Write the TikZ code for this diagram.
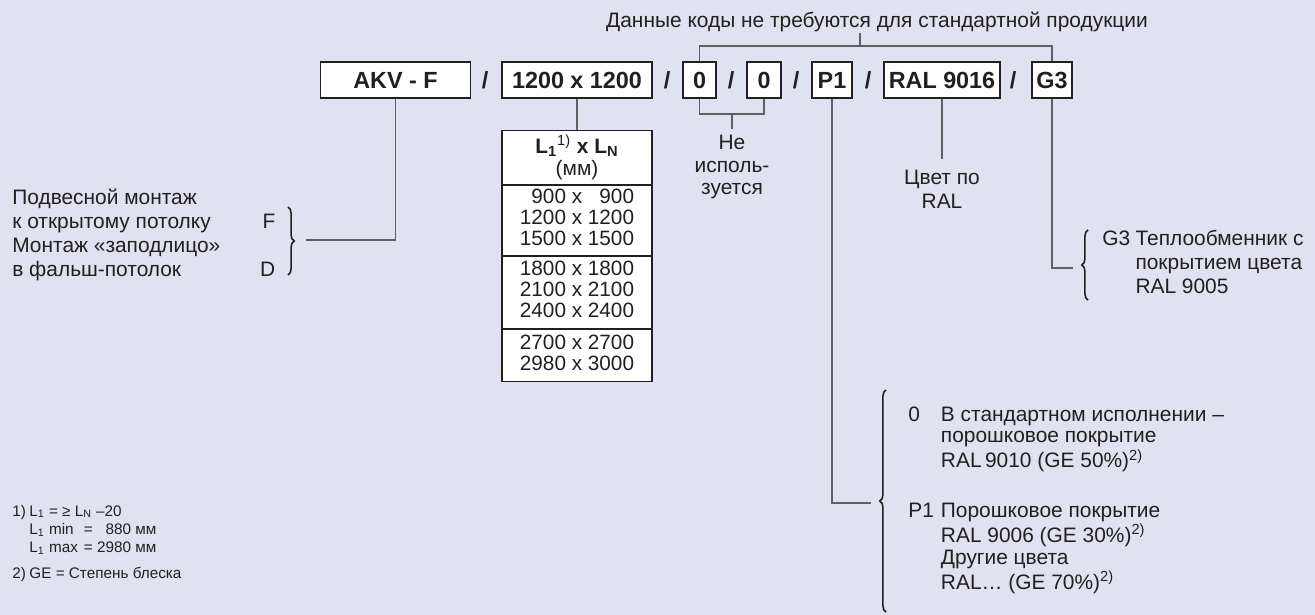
\documentclass[tikz,border=0pt]{standalone}
\usepackage{fontspec}
\setmainfont{Liberation Sans}
\usetikzlibrary{decorations.pathreplacing,positioning}

\definecolor{bgcol}{RGB}{224,225,241}
\definecolor{linecol}{RGB}{95,95,100}
\definecolor{inkcol}{RGB}{35,31,32}

\newcommand{\txtfnt}{\fontsize{11.9}{12.5}\selectfont}
\newcommand{\boxfnt}{\fontsize{13.3}{14}\selectfont\bfseries}
\newcommand{\notefnt}{\fontsize{8.7}{10.5}\selectfont}

\begin{document}
\begin{tikzpicture}[
  x=0.02cm, y=-0.02cm,
  every node/.style={font=\txtfnt, text=inkcol, inner sep=0pt},
  codebox/.style={rectangle, draw=inkcol, fill=white, line width=0.6pt, minimum height=0.72cm, font=\boxfnt},
  slash/.style={font=\boxfnt},
  cell/.style={rectangle, draw=inkcol, fill=white, line width=0.6pt, minimum width=3cm, align=center},
  link/.style={draw=linecol, line width=0.7pt},
  bracegrp/.style={draw=inkcol, line width=0.9pt, decorate, decoration={brace, amplitude=3.5pt}}
]

\fill[bgcol] (0,0) rectangle (1315,615);
\useasboundingbox (0,0) rectangle (1315,615);

\def\rowy{80}

\node[codebox, minimum width=3cm] (akv) at (395.5,\rowy) {AKV - F};
\node[codebox, minimum width=3cm] (size) at (577,\rowy) {1200 x 1200};
\node[codebox, minimum width=0.66cm] (opta) at (699.5,\rowy) {0};
\node[codebox, minimum width=0.68cm] (optb) at (764,\rowy) {0};
\node[codebox, minimum width=0.8cm] (coat) at (832,\rowy) {P1};
\node[codebox, minimum width=2.32cm] (ral) at (942,\rowy) {RAL 9016};
\node[codebox, minimum width=0.8cm] (exch) at (1052,\rowy) {G3};

\foreach \xs [count=\i] in {485,667,731,796,868,1013}
  \node[slash] (sl\i) at (\xs,\rowy) {/};

\node[anchor=base] (note) at (877,28) {Данные коды не требуются для стандартной продукции};
\coordinate (topbar) at (860,46);
\draw[link] (opta.north) |- (topbar) -| (exch.north);
\draw[link] (topbar) -- (topbar |- note.south);

\coordinate (unbar) at (732,114);
\node[anchor=base, inner ysep=3pt] (unused) at (732,150)
  {\fontsize{11.9}{12.6}\selectfont\begin{tabular}[t]{@{}c@{}}Не\\исполь-\\зуется\end{tabular}};
\draw[link] (opta.south) |- (unbar) -| (optb.south);
\draw[link] (unbar) -- (unused.north);

\node[anchor=base west] (mount) at (12,204)
  {\fontsize{11.9}{13.66}\selectfont\begin{tabular*}{5.26cm}[t]{@{}l@{\extracolsep{\fill}}r@{}}
   Подвесной монтаж & \\
   к открытому потолку & F \\
   Монтаж «заподлицо» & \\
   в фальш-потолок & D
  \end{tabular*}};
\draw[bracegrp] (288,207) -- (288,275);
\coordinate (mnt) at (306,240);
\draw[link] (akv.south) |- (mnt);

\node[cell, anchor=north, minimum height=1.08cm] (hdr) at (577,130)
  {\textbf{L\textsubscript{1}\textsuperscript{\mdseries 1)} x L\textsubscript{N}}\\(мм)};
\node[cell, anchor=north, minimum height=1.4cm] (grpa) at (hdr.south)
  {\fontsize{11.8}{12}\selectfont\begin{tabular}{@{}r@{ x }r@{}}900 & 900\\1200 & 1200\\1500 & 1500\end{tabular}};
\node[cell, anchor=north, minimum height=1.44cm] (grpb) at (grpa.south)
  {\fontsize{11.8}{12}\selectfont\begin{tabular}{@{}r@{ x }r@{}}1800 & 1800\\2100 & 2100\\2400 & 2400\end{tabular}};
\node[cell, anchor=north, minimum height=1.04cm] (grpc) at (grpb.south)
  {\fontsize{11.8}{12}\selectfont\begin{tabular}{@{}r@{ x }r@{}}2700 & 2700\\2980 & 3000\end{tabular}};
\draw[link] (size.south) -- (hdr.north);

\node[anchor=base, inner ysep=4.5pt] (colour) at (942,184)
  {\fontsize{11.9}{13.66}\selectfont\begin{tabular}[t]{@{}c@{}}Цвет по\\RAL\end{tabular}};
\draw[link] (ral.south) -- (colour.north);

\coordinate (gtip) at (1073,268);
\draw[link] (exch.south) |- (gtip);
\draw[bracegrp] (1088,300) -- (1088,230);
\node[anchor=base west] (exchtxt) at (1102,245)
  {\fontsize{11.9}{13.66}\selectfont\begin{tabular}[t]{@{}l@{\hspace{3pt}}l@{}}
   G3 & Теплообменник с \\
      & покрытием цвета \\
      & RAL 9005
  \end{tabular}};

\coordinate (ptip) at (871,503);
\draw[link] (coat.south) |- (ptip);
\draw[bracegrp] (886,612) -- (886,390);
\node[anchor=base west] (coattxt) at (908,421)
  {\begin{tabular}[t]{@{}l@{\hspace{4pt}}l@{}}
   0  & В стандартном исполнении – \\
      & порошковое покрытие \\
      & RAL\,9010 (GE 50\%)\textsuperscript{2)} \\[15.9pt]
   P1 & Порошковое покрытие \\
      & RAL 9006 (GE 30\%)\textsuperscript{2)} \\
      & Другие цвета \\
      & RAL\ldots\ (GE 70\%)\textsuperscript{2)}
  \end{tabular}};

\node[anchor=base west] (notes) at (12,516)
  {\notefnt\begin{tabular}[t]{@{}l@{\hspace{2pt}}l@{}}
   1) & L\textsubscript{1} = ≥ L\textsubscript{N} –20 \\
      & \makebox[31pt][l]{L\textsubscript{1} min}= \hphantom{2}880 мм \\
      & \makebox[31pt][l]{L\textsubscript{1} max}= 2980 мм \\[4.3pt]
   2) & GE = Степень блеска
  \end{tabular}};

\end{tikzpicture}
\end{document}
